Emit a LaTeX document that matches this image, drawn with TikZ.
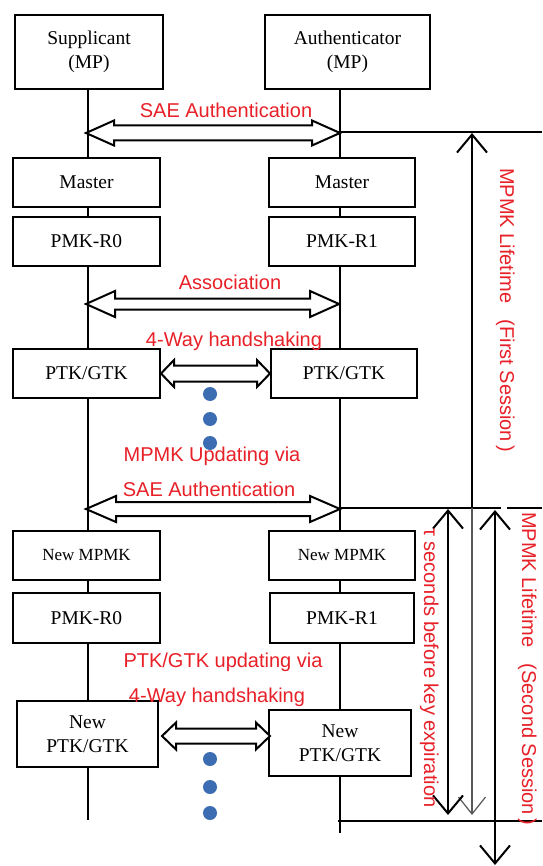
\documentclass[tikz,border=0pt]{standalone}
\usepackage{fontspec}
\setmainfont{Liberation Serif}
\newfontfamily\labfont{Liberation Sans}
\usetikzlibrary{arrows.meta,calc,backgrounds}
\definecolor{lblred}{RGB}{232,32,40}
\definecolor{dotblue}{RGB}{60,108,178}
\tikzset{
  box/.style={draw, line width=2pt, fill=white, inner sep=0pt, align=center,
    font=\fontsize{19.5}{24}\selectfont},
  smallbox/.style={box, font=\fontsize{17}{22}\selectfont},
  lbl/.style={text=lblred, font=\labfont\fontsize{20}{24}\selectfont, inner sep=0pt, anchor=base},
  vlbl/.style={lbl, rotate=-90, anchor=base west},
  life/.style={line width=2pt},
  harrow/.style={draw, line width=2pt, fill=white, line join=miter},
  bluedot/.style={circle, fill=dotblue, minimum size=14pt, inner sep=0pt},
  barbtip/.style={line width=2pt, -{Straight Barb[length=18pt,width=30pt]}},
  dblbarb/.style={line width=2pt, {Straight Barb[length=18pt,width=30pt]}-{Straight Barb[length=18pt,width=30pt]}},
  thinbarb/.style={line width=1.2pt, draw=black!65, -{Straight Barb[length=17pt,width=27pt]}},
  hline/.style={line width=2pt},
}
% name, x1, y1, x2, y2, style, text
\newcommand{\mybox}[7]{\node[#6, minimum width={#4pt-#2pt}, minimum height={#5pt-#3pt}] (#1) at ({(#2+#4)/2},{(#3+#5)/2}) {#7};}
% left tip, right tip, shaft half, head half, head length
\newcommand{\dblarrow}[5]{\draw[harrow] (#1) -- ($(#1)+(#5,-#4)$) -- ($(#1)+(#5,-#3)$) -- ($(#2)+(-#5,-#3)$) -- ($(#2)+(-#5,-#4)$) -- (#2) -- ($(#2)+(-#5,#4)$) -- ($(#2)+(-#5,#3)$) -- ($(#1)+(#5,#3)$) -- ($(#1)+(#5,#4)$) -- cycle;}
\begin{document}
\begin{tikzpicture}[x=1pt,y=-1pt]
\useasboundingbox (0,0) rectangle (542,866);
\clip (0,0) rectangle (542,866);

% boxes
\mybox{sup}{15}{15}{163}{89}{box}{Supplicant\\(MP)}
\mybox{aut}{265}{15}{430}{89}{box}{Authenticator\\(MP)}
\mybox{m1}{13}{158}{160}{207}{box}{Master}
\mybox{m2}{269}{158}{415}{207}{box}{Master}
\mybox{p1}{13}{217}{160}{266}{box}{PMK-R0}
\mybox{p2}{269}{217}{415}{266}{box}{PMK-R1}
\mybox{t1}{13}{349}{160}{398}{box}{PTK/GTK}
\mybox{t2}{271}{349}{417}{398}{box}{PTK/GTK}
\mybox{n1}{13}{531}{160}{580}{smallbox}{New MPMK}
\mybox{n2}{269}{531}{415}{580}{smallbox}{New MPMK}
\mybox{q1}{13}{593}{160}{643}{box}{PMK-R0}
\mybox{q2}{270}{593}{414}{643}{box}{PMK-R1}
\mybox{w1}{17}{701}{158}{767}{box}{New\\PTK/GTK}
\mybox{w2}{269}{710}{411}{776}{box}{New\\PTK/GTK}

% lifelines (behind the boxes)
\coordinate (Lx) at (88,0);
\coordinate (Rx) at (340,0);
\coordinate (Lend) at (88,820);
\coordinate (Rend) at (340,833);
\begin{scope}[on background layer]
  \fill[white] (0,0) rectangle (542,866);
  \draw[life] (sup.south -| Lx) -- (Lend);
  \draw[life] (aut.south -| Rx) -- (Rend);
\end{scope}

% hollow double arrows
\coordinate (a1L) at (86,133);  \coordinate (a1R) at (340,133);
\coordinate (a2L) at (86,304);  \coordinate (a2R) at (339,304);
\coordinate (a4L) at (86,509);  \coordinate (a4R) at (340,509);
\coordinate (a5L) at (162,736); \coordinate (a5R) at (270,736);
\dblarrow{a1L}{a1R}{7.5}{12.5}{28}
\dblarrow{a2L}{a2R}{5.5}{13}{29}
\dblarrow{t1.east}{t2.west}{8}{13.5}{13}
\dblarrow{a4L}{a4R}{7}{13}{30}
\dblarrow{a5L}{a5R}{7.5}{13.5}{14}

% labels
\node[lbl] (l1) at (226,118) {SAE Authentication};
\node[lbl] (l2) at (230,290) {Association};
\node[lbl] (l3) at (234,346) {4-Way handshaking};
\node[lbl] (l5) at (209,496) {SAE Authentication};
\node[lbl] (l6) at (223,667) {PTK/GTK updating via};
\node[lbl] (l7) at (217,702) {4-Way handshaking};

% dots
\node[bluedot] (d1) at (210,394) {};
\node[bluedot] (d2) at (210,419) {};
\node[bluedot] (d3) at (210,443) {};
\node[bluedot] (d4) at (210,759) {};
\node[bluedot] (d5) at (210,787) {};
\node[bluedot] (d6) at (210,813) {};
\node[lbl] (l4) at (212,461) {MPMK Updating via};

% right side lines
\coordinate (h1L) at (340,132); \coordinate (h1R) at (542,132);
\coordinate (h2L) at (340,508); \coordinate (h2M) at (501,508);
\coordinate (h2N) at (507,508); \coordinate (h2R) at (542,508);
\coordinate (h3L) at (338,821); \coordinate (h3R) at (542,821);
\draw[hline] (h1L) -- (h1R);
\draw[hline] (h2L) -- (h2M);
\draw[hline] (h2N) -- (h2R);
\draw[hline] (h3L) -- (h3R);

% vertical arrows
\coordinate (fsT) at (472,133); \coordinate (fsB) at (472,508);
\coordinate (fsE) at (472,815);
\draw[barbtip] (fsB) -- (fsT);
\draw[thinbarb] (fsB) -- (fsE);
\coordinate (tauT) at (448,509); \coordinate (tauB) at (448,815);
\draw[dblbarb] (tauT) -- (tauB);
\coordinate (ssT) at (495,510); \coordinate (ssB) at (495,865);
\draw[dblbarb] (ssT) -- (ssB);

% vertical labels
\node[vlbl] (v1) at (500,168) {MPMK Lifetime\hspace{16pt}(First Session\,)};
\node[vlbl] (v2) at (424,528) {τ seconds before key expiration};
\node[vlbl] (v3) at (522,512) {MPMK Lifetime\hspace{16pt}(Second Session\,)};
\end{tikzpicture}
\end{document}
